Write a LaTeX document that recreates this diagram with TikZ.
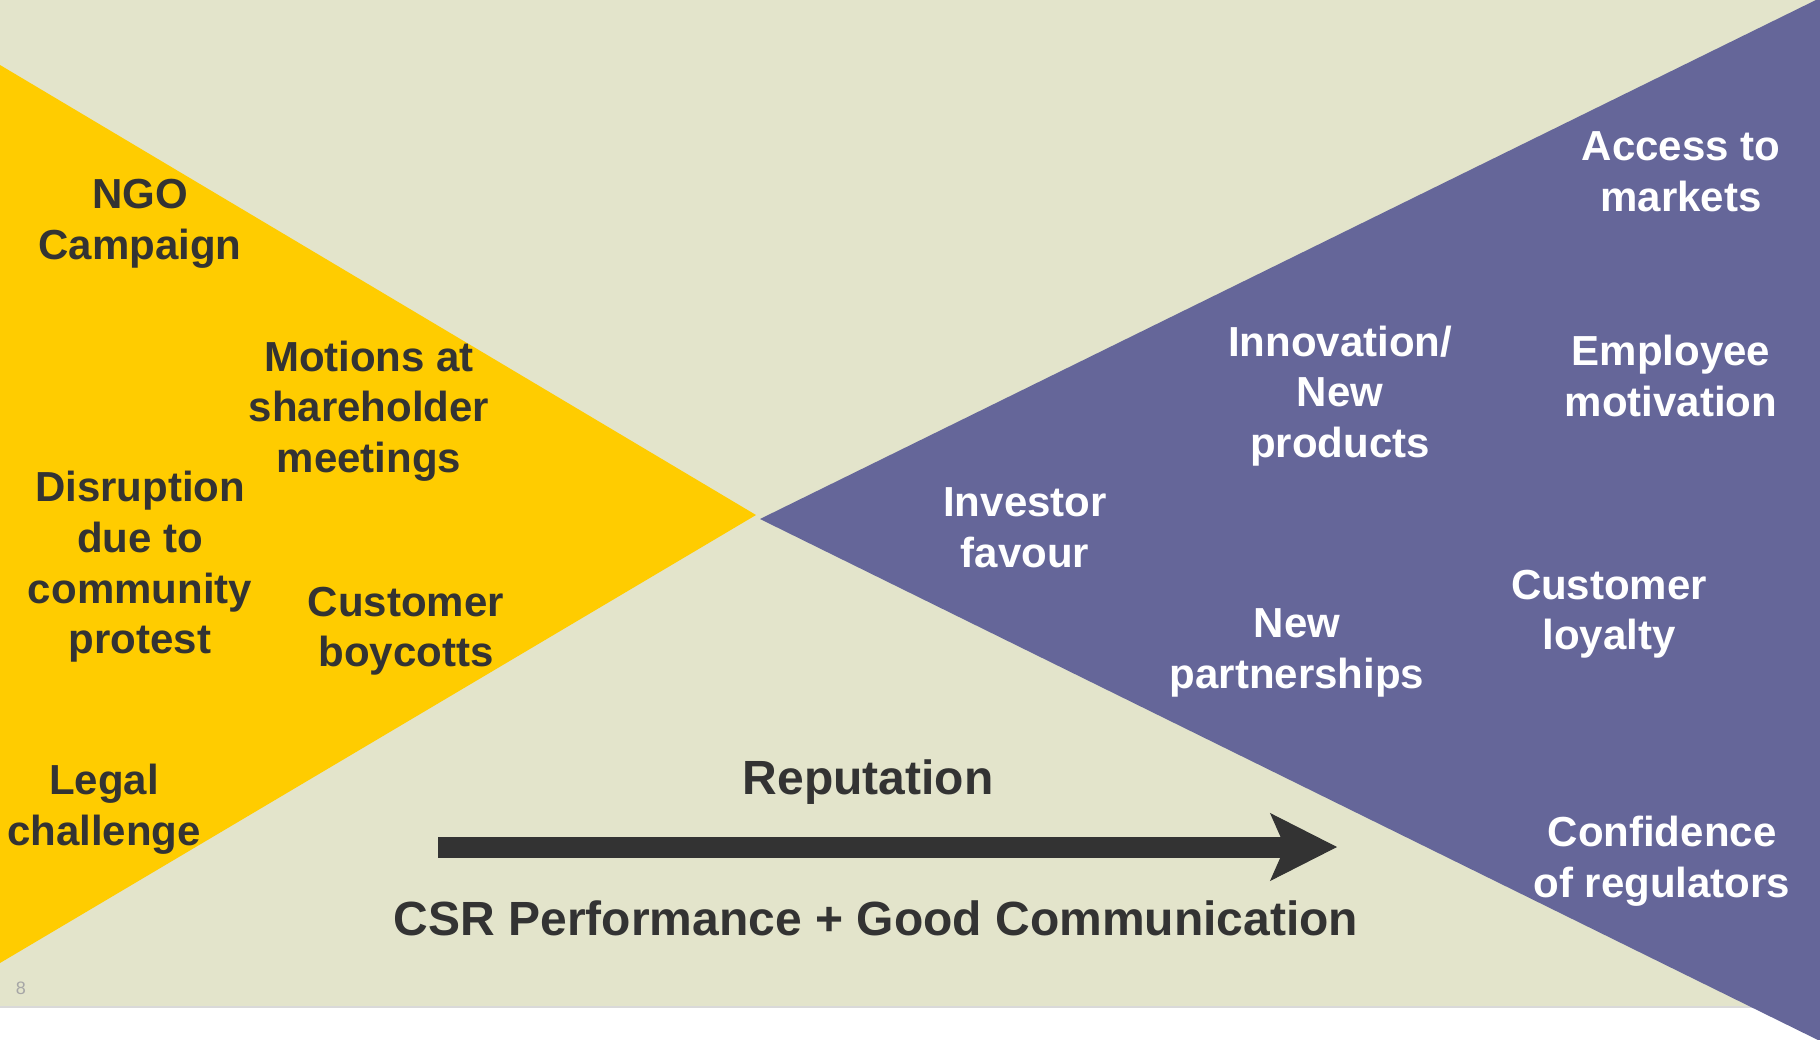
\documentclass[tikz,border=0pt]{standalone}
\usepackage{fontspec}
\setmainfont{Liberation Sans}
\usepackage{xcolor}
\usetikzlibrary{arrows.meta}
\definecolor{bgbeige}{HTML}{E3E4CB}
\definecolor{riskyellow}{HTML}{FFCC00}
\definecolor{gainpurple}{HTML}{656699}
\definecolor{darktext}{HTML}{333333}
\definecolor{slidegrey}{HTML}{A6A6A6}
\tikzstyle{risklabel} = [text=darktext, align=center, inner sep=0,
    font=\fontsize{21}{25.3}\selectfont\bfseries]
\tikzstyle{gainlabel} = [risklabel, text=white]
\tikzstyle{bottomlabel} = [risklabel, font=\fontsize{24}{29}\selectfont\bfseries]
\tikzstyle{pagenum} = [text=slidegrey, inner sep=0, font=\fontsize{9}{11}\selectfont]

\begin{document}
\begin{tikzpicture}[x=0.5pt, y=-0.5pt]
    \useasboundingbox (0,0) rectangle (1820,1039);
    % slide background
    \fill[white] (0,0) rectangle (1820,1039);
    \fill[bgbeige] (0,0) rectangle (1820,1007);
    \draw[gray!30, line width=0.6pt] (0,1007) -- (1820,1007);
    % the two wedges
    \fill[riskyellow] (0,65) -- (756,515) -- (0,963) -- cycle;
    \fill[gainpurple] (760,519) -- (1820,-2) -- (1820,1041) -- cycle;

    % risks
    \node[risklabel] (ngo) at (140,224) {NGO\\Campaign};
    \node[risklabel] (motions) at (369,411) {Motions at\\shareholder\\meetings};
    \node[risklabel] (disruption) at (140,567) {Disruption\\due to\\community\\protest};
    \node[risklabel] (boycotts) at (406,631) {Customer\\boycotts};
    \node[risklabel] (legal) at (104,809) {Legal\\challenge};

    % opportunities
    \node[gainlabel] (access) at (1681,172) {Access to\\markets};
    \node[gainlabel] (innovation) at (1340,396) {Innovation/\\New\\products};
    \node[gainlabel] (employee) at (1671,376) {Employee\\motivation};
    \node[gainlabel] (investor) at (1025,528) {Investor\\favour};
    \node[gainlabel] (partnerships) at (1297,653) {New\\partnerships};
    \node[gainlabel] (loyalty) at (1609,614) {Customer\\loyalty};
    \node[gainlabel] (regulators) at (1662,861) {Confidence\\of regulators};

    % reputation arrow
    \coordinate (arrowstart) at (438,847);
    \coordinate (arrowend) at (1337,847);
    \draw[darktext, line width=10.5pt,
        -{Stealth[length=33.5pt, width=34pt, inset=7.5pt, line width=0.5pt]}]
        (arrowstart) -- (arrowend);
    \node[bottomlabel] (reputation) at (868,782) {Reputation};
    \node[bottomlabel] (csr) at (876,918) {CSR Performance + Good Communication};

    \node[pagenum] (slideno) at (21,988) {8};
\end{tikzpicture}
\end{document}
